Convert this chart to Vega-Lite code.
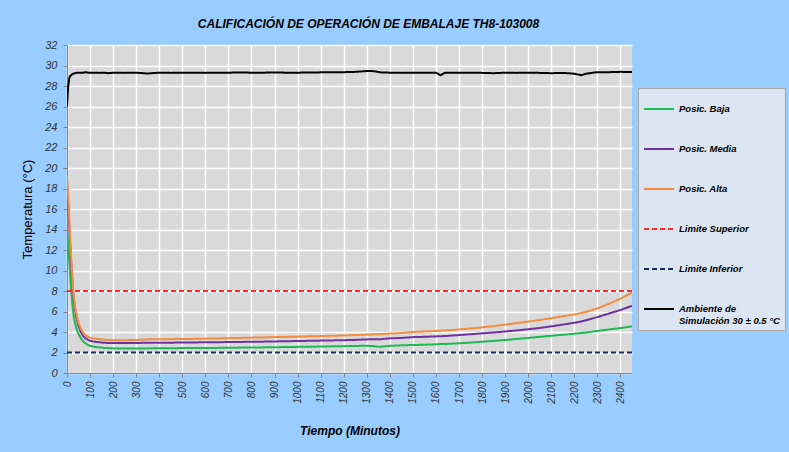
{
  "$schema": "https://vega.github.io/schema/vega-lite/v6.json",
  "autosize": {"type": "none"},
  "width": 565,
  "height": 328,
  "padding": {"left": 67, "top": 45, "right": 157, "bottom": 79},
  "background": "#99CCFF",
  "title": {
    "text": "CALIFICACIÓN DE OPERACIÓN DE EMBALAJE TH8-103008",
    "font": "Liberation Sans",
    "fontSize": 12,
    "fontWeight": "bold",
    "fontStyle": "italic",
    "color": "#000000",
    "anchor": "middle",
    "dx": 19,
    "offset": 8
  },
  "config": {
    "view": {"fill": "#D9D9D9", "stroke": null},
    "font": "Liberation Sans"
  },
  "data": {
    "values": [
      {"t": 0, "baja": 14.3, "media": 18.7, "alta": 19.2, "amb": 26.0, "sup": 8, "inf": 2},
      {"t": 5, "baja": 12.5, "media": 16.5, "alta": 17.2, "amb": 27.9, "sup": 8, "inf": 2},
      {"t": 10, "baja": 10.8, "media": 14.3, "alta": 15.0, "amb": 28.8, "sup": 8, "inf": 2},
      {"t": 15, "baja": 9.0, "media": 12.0, "alta": 12.6, "amb": 29.0, "sup": 8, "inf": 2},
      {"t": 20, "baja": 7.5, "media": 10.0, "alta": 10.5, "amb": 29.1, "sup": 8, "inf": 2},
      {"t": 25, "baja": 6.3, "media": 8.3, "alta": 8.6, "amb": 29.2, "sup": 8, "inf": 2},
      {"t": 30, "baja": 5.4, "media": 7.0, "alta": 7.3, "amb": 29.2, "sup": 8, "inf": 2},
      {"t": 40, "baja": 4.4, "media": 5.5, "alta": 5.8, "amb": 29.3, "sup": 8, "inf": 2},
      {"t": 50, "baja": 3.8, "media": 4.6, "alta": 4.9, "amb": 29.3, "sup": 8, "inf": 2},
      {"t": 60, "baja": 3.4, "media": 4.0, "alta": 4.3, "amb": 29.3, "sup": 8, "inf": 2},
      {"t": 70, "baja": 3.1, "media": 3.6, "alta": 3.9, "amb": 29.3, "sup": 8, "inf": 2},
      {"t": 80, "baja": 2.9, "media": 3.4, "alta": 3.7, "amb": 29.35, "sup": 8, "inf": 2},
      {"t": 90, "baja": 2.75, "media": 3.25, "alta": 3.55, "amb": 29.3, "sup": 8, "inf": 2},
      {"t": 100, "baja": 2.65, "media": 3.15, "alta": 3.45, "amb": 29.3, "sup": 8, "inf": 2},
      {"t": 120, "baja": 2.55, "media": 3.05, "alta": 3.35, "amb": 29.3, "sup": 8, "inf": 2},
      {"t": 140, "baja": 2.5, "media": 3.0, "alta": 3.3, "amb": 29.28, "sup": 8, "inf": 2},
      {"t": 160, "baja": 2.45, "media": 2.95, "alta": 3.25, "amb": 29.3, "sup": 8, "inf": 2},
      {"t": 180, "baja": 2.42, "media": 2.93, "alta": 3.22, "amb": 29.25, "sup": 8, "inf": 2},
      {"t": 200, "baja": 2.4, "media": 2.92, "alta": 3.2, "amb": 29.3, "sup": 8, "inf": 2},
      {"t": 250, "baja": 2.4, "media": 2.92, "alta": 3.2, "amb": 29.28, "sup": 8, "inf": 2},
      {"t": 300, "baja": 2.4, "media": 2.93, "alta": 3.22, "amb": 29.3, "sup": 8, "inf": 2},
      {"t": 350, "baja": 2.4, "media": 2.95, "alta": 3.28, "amb": 29.22, "sup": 8, "inf": 2},
      {"t": 400, "baja": 2.42, "media": 2.95, "alta": 3.3, "amb": 29.3, "sup": 8, "inf": 2},
      {"t": 450, "baja": 2.42, "media": 2.96, "alta": 3.3, "amb": 29.28, "sup": 8, "inf": 2},
      {"t": 500, "baja": 2.43, "media": 2.97, "alta": 3.32, "amb": 29.3, "sup": 8, "inf": 2},
      {"t": 550, "baja": 2.43, "media": 2.98, "alta": 3.33, "amb": 29.3, "sup": 8, "inf": 2},
      {"t": 600, "baja": 2.44, "media": 3.0, "alta": 3.35, "amb": 29.28, "sup": 8, "inf": 2},
      {"t": 650, "baja": 2.45, "media": 3.0, "alta": 3.37, "amb": 29.3, "sup": 8, "inf": 2},
      {"t": 700, "baja": 2.46, "media": 3.02, "alta": 3.4, "amb": 29.3, "sup": 8, "inf": 2},
      {"t": 750, "baja": 2.48, "media": 3.03, "alta": 3.42, "amb": 29.32, "sup": 8, "inf": 2},
      {"t": 800, "baja": 2.5, "media": 3.05, "alta": 3.45, "amb": 29.3, "sup": 8, "inf": 2},
      {"t": 850, "baja": 2.5, "media": 3.06, "alta": 3.47, "amb": 29.3, "sup": 8, "inf": 2},
      {"t": 900, "baja": 2.52, "media": 3.08, "alta": 3.5, "amb": 29.32, "sup": 8, "inf": 2},
      {"t": 950, "baja": 2.53, "media": 3.1, "alta": 3.52, "amb": 29.3, "sup": 8, "inf": 2},
      {"t": 1000, "baja": 2.55, "media": 3.12, "alta": 3.55, "amb": 29.3, "sup": 8, "inf": 2},
      {"t": 1050, "baja": 2.56, "media": 3.14, "alta": 3.58, "amb": 29.32, "sup": 8, "inf": 2},
      {"t": 1100, "baja": 2.58, "media": 3.16, "alta": 3.6, "amb": 29.33, "sup": 8, "inf": 2},
      {"t": 1150, "baja": 2.6, "media": 3.18, "alta": 3.63, "amb": 29.33, "sup": 8, "inf": 2},
      {"t": 1200, "baja": 2.62, "media": 3.2, "alta": 3.66, "amb": 29.35, "sup": 8, "inf": 2},
      {"t": 1250, "baja": 2.64, "media": 3.23, "alta": 3.7, "amb": 29.38, "sup": 8, "inf": 2},
      {"t": 1300, "baja": 2.66, "media": 3.28, "alta": 3.75, "amb": 29.46, "sup": 8, "inf": 2},
      {"t": 1330, "baja": 2.62, "media": 3.29, "alta": 3.77, "amb": 29.45, "sup": 8, "inf": 2},
      {"t": 1360, "baja": 2.55, "media": 3.3, "alta": 3.8, "amb": 29.33, "sup": 8, "inf": 2},
      {"t": 1400, "baja": 2.65, "media": 3.38, "alta": 3.85, "amb": 29.3, "sup": 8, "inf": 2},
      {"t": 1450, "baja": 2.7, "media": 3.42, "alta": 3.9, "amb": 29.28, "sup": 8, "inf": 2},
      {"t": 1500, "baja": 2.73, "media": 3.5, "alta": 4.0, "amb": 29.3, "sup": 8, "inf": 2},
      {"t": 1550, "baja": 2.76, "media": 3.53, "alta": 4.05, "amb": 29.3, "sup": 8, "inf": 2},
      {"t": 1600, "baja": 2.8, "media": 3.57, "alta": 4.1, "amb": 29.3, "sup": 8, "inf": 2},
      {"t": 1620, "baja": 2.82, "media": 3.59, "alta": 4.13, "amb": 29.05, "sup": 8, "inf": 2},
      {"t": 1640, "baja": 2.83, "media": 3.61, "alta": 4.15, "amb": 29.3, "sup": 8, "inf": 2},
      {"t": 1700, "baja": 2.9, "media": 3.7, "alta": 4.25, "amb": 29.28, "sup": 8, "inf": 2},
      {"t": 1750, "baja": 2.97, "media": 3.78, "alta": 4.35, "amb": 29.3, "sup": 8, "inf": 2},
      {"t": 1800, "baja": 3.05, "media": 3.87, "alta": 4.45, "amb": 29.28, "sup": 8, "inf": 2},
      {"t": 1850, "baja": 3.13, "media": 3.95, "alta": 4.58, "amb": 29.25, "sup": 8, "inf": 2},
      {"t": 1900, "baja": 3.22, "media": 4.05, "alta": 4.72, "amb": 29.3, "sup": 8, "inf": 2},
      {"t": 1950, "baja": 3.32, "media": 4.15, "alta": 4.87, "amb": 29.28, "sup": 8, "inf": 2},
      {"t": 2000, "baja": 3.42, "media": 4.27, "alta": 5.02, "amb": 29.3, "sup": 8, "inf": 2},
      {"t": 2050, "baja": 3.53, "media": 4.4, "alta": 5.17, "amb": 29.28, "sup": 8, "inf": 2},
      {"t": 2100, "baja": 3.63, "media": 4.55, "alta": 5.35, "amb": 29.25, "sup": 8, "inf": 2},
      {"t": 2150, "baja": 3.73, "media": 4.72, "alta": 5.53, "amb": 29.28, "sup": 8, "inf": 2},
      {"t": 2200, "baja": 3.83, "media": 4.9, "alta": 5.72, "amb": 29.2, "sup": 8, "inf": 2},
      {"t": 2230, "baja": 3.9, "media": 5.03, "alta": 5.85, "amb": 29.05, "sup": 8, "inf": 2},
      {"t": 2250, "baja": 3.95, "media": 5.15, "alta": 5.95, "amb": 29.2, "sup": 8, "inf": 2},
      {"t": 2300, "baja": 4.1, "media": 5.45, "alta": 6.3, "amb": 29.35, "sup": 8, "inf": 2},
      {"t": 2350, "baja": 4.25, "media": 5.8, "alta": 6.75, "amb": 29.35, "sup": 8, "inf": 2},
      {"t": 2400, "baja": 4.38, "media": 6.15, "alta": 7.25, "amb": 29.38, "sup": 8, "inf": 2},
      {"t": 2450, "baja": 4.55, "media": 6.55, "alta": 7.85, "amb": 29.37, "sup": 8, "inf": 2}
    ]
  },
  "transform": [
    {"fold": ["baja", "media", "alta", "sup", "inf", "amb"], "as": ["serie", "valor"]}
  ],
  "mark": {"type": "line", "strokeWidth": 2, "clip": true},
  "encoding": {
    "x": {
      "field": "t",
      "type": "quantitative",
      "scale": {"domain": [0, 2450], "nice": false, "zero": false},
      "axis": {
        "values": [0,100,200,300,400,500,600,700,800,900,1000,1100,1200,1300,1400,1500,1600,1700,1800,1900,2000,2100,2200,2300,2400],
        "format": "d",
        "labelAngle": 270,
        "labelFontStyle": "italic",
        "labelFontSize": 10,
        "labelColor": "#333333",
        "labelPadding": 4,
        "tickSize": 4,
        "tickColor": "#868686",
        "domainColor": "#868686",
        "gridColor": "#FFFFFF",
        "gridWidth": 1.5,
        "title": "Tiempo (Minutos)",
        "titleFontSize": 12,
        "titleFontWeight": "bold",
        "titleFontStyle": "italic",
        "titleColor": "#000000",
        "titlePadding": 22
      }
    },
    "y": {
      "field": "valor",
      "type": "quantitative",
      "scale": {"domain": [0, 32], "nice": false},
      "axis": {
        "values": [0,2,4,6,8,10,12,14,16,18,20,22,24,26,28,30,32],
        "labelFontStyle": "italic",
        "labelFontSize": 11,
        "labelColor": "#333333",
        "labelPadding": 6,
        "tickSize": 4,
        "tickColor": "#868686",
        "domainColor": "#868686",
        "gridColor": "#FFFFFF",
        "gridWidth": 1.5,
        "title": "Temperatura (°C)",
        "titleFontSize": 13,
        "titleFontWeight": "normal",
        "titleColor": "#000000",
        "titlePadding": 10
      }
    },
    "strokeWidth": {
      "field": "serie",
      "type": "nominal",
      "scale": {
        "domain": ["baja", "media", "alta", "sup", "inf", "amb"],
        "range": [2, 2, 2, 2, 2, 1.6]
      },
      "legend": null
    },
    "color": {
      "field": "serie",
      "type": "nominal",
      "scale": {
        "domain": ["baja", "media", "alta", "sup", "inf", "amb"],
        "range": ["#1DB954", "#7030A0", "#F68B3C", "#FF2A2A", "#1F2A5E", "#000000"]
      },
      "legend": {
        "orient": "none",
        "legendX": 571,
        "legendY": 43,
        "title": null,
        "fillColor": "#DCE6F2",
        "strokeColor": "#A6A6A6",
        "padding": 5,
        "symbolType": "stroke",
        "symbolSize": 900,
        "symbolStrokeWidth": 2,
        "labelFont": "Liberation Sans",
        "labelFontSize": 9.5,
        "labelFontWeight": "bold",
        "labelFontStyle": "italic",
        "labelColor": "#000000",
        "labelOffset": 4,
        "labelLimit": 200,
        "rowPadding": 19,
        "labelExpr": "datum.value == 'baja' ? 'Posic. Baja' : datum.value == 'media' ? 'Posic. Media' : datum.value == 'alta' ? 'Posic. Alta' : datum.value == 'sup' ? 'Limite Superior' : datum.value == 'inf' ? 'Limite Inferior' : ['Ambiente de', 'Simulación 30 ± 0.5 °C']"
      }
    },
    "strokeDash": {
      "field": "serie",
      "type": "nominal",
      "scale": {
        "domain": ["baja", "media", "alta", "sup", "inf", "amb"],
        "range": [[1, 0], [1, 0], [1, 0], [5, 3], [5, 3], [1, 0]]
      },
      "legend": null
    }
  }
}
